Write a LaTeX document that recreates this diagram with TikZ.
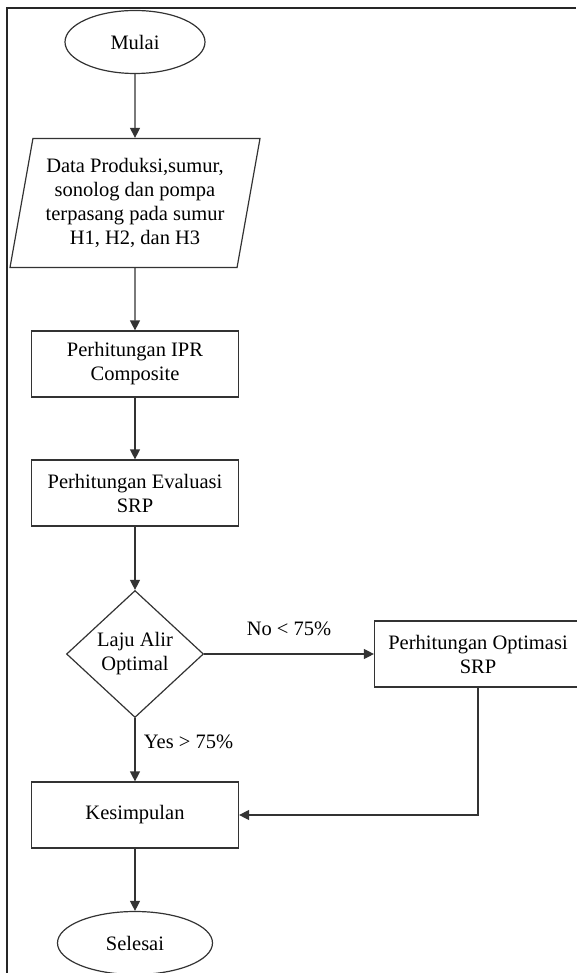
\documentclass[tikz,border=0pt]{standalone}
\usepackage{fontspec}
\setmainfont{Liberation Serif}
\usetikzlibrary{shapes.geometric, arrows.meta, positioning}

\tikzset{
  flowline/.style={draw=black!80, line width=1.2pt},
  terminal/.style={ellipse, flowline, minimum height=63pt, inner sep=0pt},
  process/.style={rectangle, flowline, minimum width=207pt, minimum height=66pt,
    align=center, inner sep=0pt},
  dataio/.style={trapezium, trapezium left angle=75.6, trapezium right angle=104.4,
    trapezium stretches body, flowline, minimum width=250pt, minimum height=129pt,
    align=center, inner sep=0pt},
  decision/.style={diamond, flowline, minimum width=137pt, minimum height=127pt,
    align=center, inner sep=0pt},
  link/.style={flowline, -{Triangle[length=10pt, width=10pt]}},
}

\begin{document}
\begin{tikzpicture}[x=1pt, y=-1pt, font=\fontsize{20.5}{24}\selectfont]
  \useasboundingbox (0,0) rectangle (576,973);
  % Outer frame
  \draw[line width=2pt, black!85] (7,973) -- (7,8) -- (576,8);
  % Main column
  \node[terminal, minimum width=140pt] (mulai) at (135,42) {Mulai};
  \node[dataio] (data) at (135,203)
    {Data Produksi,sumur,\\sonolog dan pompa\\terpasang pada sumur\\H1, H2, dan H3};
  \node[process] (ipr) at (135,364) {Perhitungan IPR\\Composite};
  \node[process] (evaluasi) at (135,493) {Perhitungan Evaluasi\\SRP};
  \node[decision] (laju) at (135,654) {Laju Alir\\Optimal};
  \node[process] (kesimpulan) at (135,815) {Kesimpulan};
  \node[terminal, minimum width=155pt] (selesai) at (135,943) {Selesai};
  % Side branch
  \node[process] (optimasi) at (478,654) {Perhitungan Optimasi\\SRP};
  % Connectors
  \draw[link] (mulai.south) -- (data.north);
  \draw[link] (data.south) -- (ipr.north);
  \draw[link] (ipr) -- (evaluasi);
  \draw[link] (evaluasi) -- (laju);
  \draw[link] (laju) -- (kesimpulan)
    node[midway, right=5pt, yshift=8pt] {Yes > 75\%};
  \draw[link] (kesimpulan) -- (selesai);
  \draw[link] (laju) -- (optimasi)
    node[midway, above=14pt] {No < 75\%};
  \draw[link] (optimasi.south) |- (kesimpulan.east);
\end{tikzpicture}
\end{document}
